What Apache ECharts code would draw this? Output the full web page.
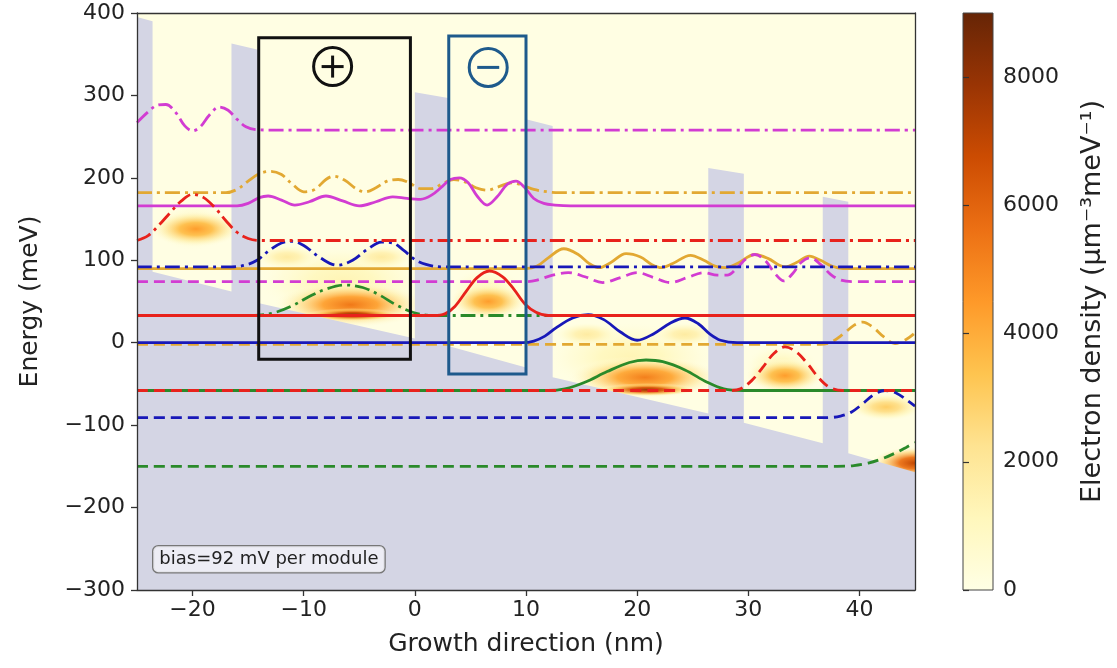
<!DOCTYPE html>
<html><head><meta charset="utf-8">
<script src="https://cdn.jsdelivr.net/npm/echarts@6/dist/echarts.min.js"></script>
<style>html,body{margin:0;padding:0;background:#fff}#c{width:1117px;height:668px}</style>
</head><body><div id="c"></div>
<script>
// ---------------- data ----------------
const xTicks = [-20, -10, 0, 10, 20, 30, 40];
const cbTicks = [0, 2000, 4000, 6000, 8000];
const cbMax = 9000;
const cmapStops = ['#ffffe5','#fff7bc','#fee391','#fec44f','#fe9929','#ec7014','#cc4c02','#993404','#662506'];

// conduction band edge (nm, meV)
const bandX = [-25, -23.6, -23.6, -16.5, -16.5, -14, -14, 0, 0, 3, 3, 10, 10, 12.4, 12.4, 26.4, 26.4, 29.6, 29.6, 36.7, 36.7, 39, 39, 45];
const bandE = [395, 390, 86, 62, 363, 355, 48, 5, 304, 297, -4, -30, 271, 263, -42, -86, 212, 205, -97, -122, 177, 171, -134, -157];

// wavefunctions (x nm, energy meV)
const greenDash = [[-25,-150],[36,-150],[38,-150],[39.5,-149],[40.8,-146],[42,-141],[43.2,-134],[44.2,-127],[45,-121]];
const greenSolid = [[-25,-58],[10,-58],[12,-58],[13.5,-56],[15.3,-48],[17.3,-35],[19.3,-24],[20.8,-21],[22.3,-23],[24.3,-33],[26.3,-48],[27.8,-56],[29.5,-58],[31,-58],[45,-58]];
const greenDashDot = [[-25,33],[-17,33],[-15,33],[-14,33.5],[-12.5,37],[-11,45],[-9.5,56],[-8,65],[-6.3,70],[-4.7,67],[-3.2,58],[-1.7,46],[-0.2,37],[1.2,33.5],[3,33],[5,33],[45,33]];
const orangeDash = [[-25,-2],[34,-2],[36.5,-2],[37.5,1],[38.5,10],[39.5,21],[40.3,25],[41.2,19],[42.2,7],[43.2,-1],[44.2,4],[45,12]];
const orangeSolid = [[-25,90],[8,90],[10,90],[11,93],[12,103],[13.4,114],[14.7,107],[15.7,96],[16.6,91],[17.6,97],[19,108],[20.3,104],[21.3,95],[22.2,91],[23.2,96],[24.8,106],[26,100],[27,93],[27.9,91],[29,96],[30.6,107],[31.8,102],[32.8,94],[33.4,92],[34.3,97],[35.5,105],[36.5,100],[37.5,93],[38.5,90],[40,90],[45,90]];
const orangeDashDot = [[-25,182],[-19,182],[-17,182],[-16,186],[-15,196],[-14,205],[-13,208],[-12,204],[-11,192],[-10,183],[-9,186],[-8,198],[-7.3,202],[-6.3,197],[-5.3,187],[-4.5,183],[-3.5,188],[-2.5,196],[-1.5,198],[-0.5,194],[0.5,187],[1.5,187],[2.5,193],[3.5,198],[4.5,195],[5.5,188],[6.5,185],[7.5,189],[8.7,194],[9.7,191],[10.7,186],[12,183],[13,182],[15,182],[45,182]];
const magentaDash = [[-25,74],[8,74],[10,74],[11,76],[12.4,82],[13.8,85],[15.3,80],[16.9,73],[18.5,79],[20,85],[21.5,79],[23,73],[24.5,79],[26,85],[27.2,82],[28.1,82],[29,91],[29.8,102],[30.6,107],[31.5,100],[32.4,84],[33.2,75],[34,84],[34.8,98],[35.6,103],[36.5,95],[37.4,83],[38.3,76],[39.5,74],[41,74],[45,74]];
const magentaSolid = [[-25,166],[-18,166],[-16,166],[-15,169],[-14,176],[-13.2,178],[-12,173],[-10.8,167],[-9.5,171],[-8,178],[-6.5,172],[-5,166],[-3.5,171],[-2,177],[-0.7,175],[0.5,174],[1.5,179],[2.5,190],[3.2,198],[4,200],[4.8,194],[5.6,178],[6.5,167],[7.4,177],[8.3,192],[9.1,196],[9.9,188],[10.7,175],[11.6,169],[12.6,167],[14,166],[45,166]];
const magentaDashDot = [[-25,267],[-24,280],[-23.2,288],[-22.4,289],[-21.5,279],[-20.7,263],[-20,257],[-19.3,262],[-18.5,276],[-17.6,286],[-16.8,282],[-16,271],[-15.2,262],[-14.3,258.5],[-13,258],[-11,258],[45,258]];
const blueDash = [[-25,-91],[35,-91],[37,-91],[38.3,-89],[39.3,-84],[40.3,-74],[41.3,-63],[42.3,-58],[43.3,-61],[44.3,-70],[45,-77]];
const blueSolid = [[-25,0],[8,0],[9.7,0],[10.7,2],[11.7,8],[12.7,18],[14.2,30],[15.6,34],[17,28],[18.5,13],[20,3],[21.5,11],[23,24],[24.3,30],[25.5,23],[26.5,11],[27.5,3],[29,0],[31,0],[45,0]];
const blueDashDot = [[-25,92],[-18,92],[-16.5,92],[-15.3,94],[-14.2,100],[-13.1,112],[-12,121],[-11,123],[-10,118],[-8.5,103],[-7,94],[-5.6,100],[-4.3,113],[-3,122],[-2,121],[-1,112],[0,101],[1,95],[2.5,92],[4,92],[45,92]];
const redDash = [[-25,-58],[26,-58],[28.3,-58],[29.3,-56],[30.3,-46],[31.3,-30],[32.3,-13],[33.3,-5],[34.3,-11],[35.3,-25],[36.3,-42],[37.3,-54],[38.5,-58],[40,-58],[45,-58]];
const redSolid = [[-25,33],[0,33],[1.7,33],[2.7,35],[3.6,44],[4.6,62],[5.6,79],[6.7,87],[7.9,80],[8.9,65],[9.9,47],[10.9,37],[12,33],[14,33],[45,33]];
const redDashDot = [[-25,124],[-24,130],[-23,143],[-22,158],[-21,172],[-20,180],[-19,176],[-18,164],[-17,148],[-16,134],[-15,126.5],[-14,124],[-12,124],[45,124]];

// electron density blobs: [x centre, E centre, half-width nm, half-height meV, density]
const blobs = [
  [-6.5, 75, 8, 45, 1300],
  [19.5, -18, 8, 45, 1300],
  [6.5, 62, 3.5, 30, 1200],
  [33, -30, 3.5, 30, 1200],
  [-20, 140, 3.5, 30, 1200],
  [-19.7, 138, 4.2, 22, 4400],
  [-5.8, 46, 7, 28, 5400],
  [-5.6, 34, 4.2, 8, 8200],
  [-11.5, 104, 3, 15, 1800],
  [-3, 104, 3, 15, 1800],
  [6.6, 50, 3.6, 22, 4400],
  [20.7, -42, 7, 26, 5200],
  [20.9, -57, 4.4, 8, 7800],
  [15.5, 10, 3, 15, 1800],
  [24.3, 10, 3, 15, 1800],
  [33.3, -40, 3.6, 21, 4400],
  [42.4, -78, 3.4, 17, 3000],
  [45, -146, 4, 20, 7000]
];

// annotation boxes: [x0, x1, E0, E1]
const boxes = [[-14.05, -0.4, -20, 370], [3.05, 10.0, -38, 372]];
// charge symbols: [x, E, sign]
const signs = [[-7.4, 335, 1], [6.6, 334, -1]];

// ---------------- styles ----------------
const FONT = 'DejaVu Sans';
const C = {g:'#2a8a2a', o:'#e2a832', m:'#d23cd2', b:'#1818b8', r:'#e8221c'};
const DASH = [11, 6], SOLID = 'solid', DD = [15, 5, 3, 5];
const waves = [
  [greenDash, C.g, DASH], [greenSolid, C.g, SOLID], [greenDashDot, C.g, DD],
  [orangeDash, C.o, DASH], [orangeSolid, C.o, SOLID], [orangeDashDot, C.o, DD],
  [magentaDash, C.m, DASH], [magentaSolid, C.m, SOLID], [magentaDashDot, C.m, DD],
  [blueDash, C.b, DASH], [blueSolid, C.b, SOLID], [blueDashDot, C.b, DD],
  [redDash, C.r, DASH], [redSolid, C.r, SOLID], [redDashDot, C.r, DD]
];
const boxColors = ['#111111', '#1e5a8c'];

function hexRgb(h){return [parseInt(h.slice(1,3),16),parseInt(h.slice(3,5),16),parseInt(h.slice(5,7),16)];}
function cmap(d, a){
  let t = Math.max(0, Math.min(1, d / cbMax));
  const n = cmapStops.length - 1;
  const i = Math.min(n - 1, Math.floor(t * n));
  const f = t * n - i;
  const c0 = hexRgb(cmapStops[i]), c1 = hexRgb(cmapStops[i+1]);
  const c = c0.map((v,k)=>Math.round(v + (c1[k]-v)*f));
  return 'rgba(' + c.join(',') + ',' + (a == null ? 1 : a) + ')';
}
const fmt = v => (v < 0 ? '\u2212' : '') + Math.abs(v);

const chart = echarts.init(document.getElementById('c'), null, {renderer:'canvas'});

const series = [];
series.push({
  type:'custom', xAxisIndex:0, yAxisIndex:0, z:1, clip:true, silent:true,
  data: blobs, encode:{x:0, y:1},
  renderItem(params, api){
    const c = api.coord([api.value(0), api.value(1)]);
    const rx = api.size([api.value(2), 0])[0];
    const ry = api.size([0, api.value(3)])[1];
    const d = api.value(4);
    return {
      type:'circle', x:c[0], y:c[1], scaleX: rx/10, scaleY: ry/10,
      shape:{cx:0, cy:0, r:10},
      style:{fill:{type:'radial', x:0.5, y:0.5, r:0.5, colorStops:[
        {offset:0, color:cmap(d, 1)},
        {offset:0.35, color:cmap(d*0.8, 0.95)},
        {offset:0.7, color:cmap(d*0.4, 0.6)},
        {offset:1, color:cmap(0, 0)}
      ]}}
    };
  }
});
series.push({
  type:'line', xAxisIndex:0, yAxisIndex:0, z:2, silent:true,
  data: bandX.map((x,i)=>[x, bandE[i]]),
  showSymbol:false, lineStyle:{width:0},
  areaStyle:{color:'#d4d5e4', opacity:1, origin:'start'}
});
waves.forEach(w => series.push({
  type:'line', xAxisIndex:0, yAxisIndex:0, z:3, silent:true,
  data:w[0], showSymbol:false, smooth:0.35,
  lineStyle:{color:w[1], width:2.8, type:w[2]}
}));
series.push({
  type:'custom', xAxisIndex:0, yAxisIndex:0, z:4, silent:true,
  data: boxes, encode:{x:[0,1], y:[2,3]},
  renderItem(params, api){
    const p0 = api.coord([api.value(0), api.value(3)]);
    const p1 = api.coord([api.value(1), api.value(2)]);
    return {type:'rect', shape:{x:p0[0], y:p0[1], width:p1[0]-p0[0], height:p1[1]-p0[1]},
      style:{fill:null, stroke:boxColors[params.dataIndex], lineWidth:3}};
  }
});
series.push({
  type:'custom', xAxisIndex:0, yAxisIndex:0, z:4, silent:true,
  data: signs, encode:{x:0, y:1},
  renderItem(params, api){
    const c = api.coord([api.value(0), api.value(1)]);
    const col = boxColors[params.dataIndex];
    const kids = [
      {type:'circle', shape:{cx:c[0], cy:c[1], r:19}, style:{fill:null, stroke:col, lineWidth:3}},
      {type:'line', shape:{x1:c[0]-11, y1:c[1], x2:c[0]+11, y2:c[1]}, style:{stroke:col, lineWidth:3}}
    ];
    if (api.value(2) > 0) kids.push({type:'line', shape:{x1:c[0], y1:c[1]-11, x2:c[0], y2:c[1]+11}, style:{stroke:col, lineWidth:3}});
    return {type:'group', children:kids};
  }
});
// colorbar
series.push({
  type:'custom', xAxisIndex:2, yAxisIndex:2, z:2, silent:true,
  data:[[0, 0, 1, cbMax]], encode:{x:[0,2], y:[1,3]},
  renderItem(params, api){
    const p0 = api.coord([api.value(0), api.value(1)]);
    const p1 = api.coord([api.value(2), api.value(3)]);
    return {type:'rect', shape:{x:p0[0], y:p1[1], width:p1[0]-p0[0], height:p0[1]-p1[1]},
      style:{stroke:'#444', lineWidth:1, fill:{type:'linear', x:0, y:1, x2:0, y2:0,
        colorStops: cmapStops.map((c,i)=>({offset:i/(cmapStops.length-1), color:c}))}}};
  }
});

const axisTxt = {color:'#222', fontFamily:FONT};
chart.setOption({
  animation:false,
  backgroundColor:'#ffffff',
  grid:[
    {left:137, top:13, width:778, height:577, show:true, backgroundColor:'#fffee3', borderWidth:0},
    {left:963, top:13, width:30, height:577}
  ],
  xAxis:[
    {gridIndex:0, type:'value', min:-25, max:45, position:'bottom', z:10,
      axisLine:{show:true, onZero:false, lineStyle:{color:'#333', width:1.3}},
      axisTick:{show:true, length:6, customValues:xTicks, lineStyle:{color:'#333', width:1.3}},
      axisLabel:{customValues:xTicks, formatter:fmt, fontSize:22, margin:9, ...axisTxt},
      splitLine:{show:false},
      name:'Growth direction (nm)', nameLocation:'middle', nameGap:42,
      nameTextStyle:{fontSize:25, ...axisTxt}},
    {gridIndex:0, type:'value', min:-25, max:45, position:'top', z:10,
      axisLine:{show:true, onZero:false, lineStyle:{color:'#333', width:1.3}},
      axisTick:{show:false}, axisLabel:{show:false}, splitLine:{show:false}},
    {gridIndex:1, type:'value', min:0, max:1, show:false}
  ],
  yAxis:[
    {gridIndex:0, type:'value', min:-300, max:400, interval:100, position:'left', z:10,
      axisLine:{show:true, onZero:false, lineStyle:{color:'#333', width:1.3}},
      axisTick:{show:true, length:6, lineStyle:{color:'#333', width:1.3}},
      axisLabel:{formatter:fmt, fontSize:22, margin:12, ...axisTxt},
      splitLine:{show:false},
      name:'Energy (meV)', nameLocation:'middle', nameGap:94,
      nameTextStyle:{fontSize:25, ...axisTxt}},
    {gridIndex:0, type:'value', min:-300, max:400, position:'right', z:10,
      axisLine:{show:true, onZero:false, lineStyle:{color:'#333', width:1.3}},
      axisTick:{show:false}, axisLabel:{show:false}, splitLine:{show:false}},
    {gridIndex:1, type:'value', min:0, max:cbMax, position:'right', z:10,
      axisLine:{show:false},
      axisTick:{show:true, length:6, customValues:cbTicks, lineStyle:{color:'#333', width:1.2}},
      axisLabel:{customValues:cbTicks, formatter:v => String(v), fontSize:22, margin:10, ...axisTxt},
      splitLine:{show:false},
      name:'Electron density (\u03BCm\u207B\u00B3meV\u207B\u00B9)', nameLocation:'middle', nameRotate:90, nameGap:86,
      nameTextStyle:{fontSize:27, ...axisTxt}}
  ],
  graphic:[
    {type:'text', left:152, top:545, z:20,
      style:{text:'bias=92 mV per module', font:'18px "DejaVu Sans"', fill:'#222',
        backgroundColor:'rgba(240,240,246,0.9)', borderColor:'#777', borderWidth:1.3, borderRadius:5,
        padding:[4,6,4,6]}}
  ],
  series
});
</script>
</body></html>
